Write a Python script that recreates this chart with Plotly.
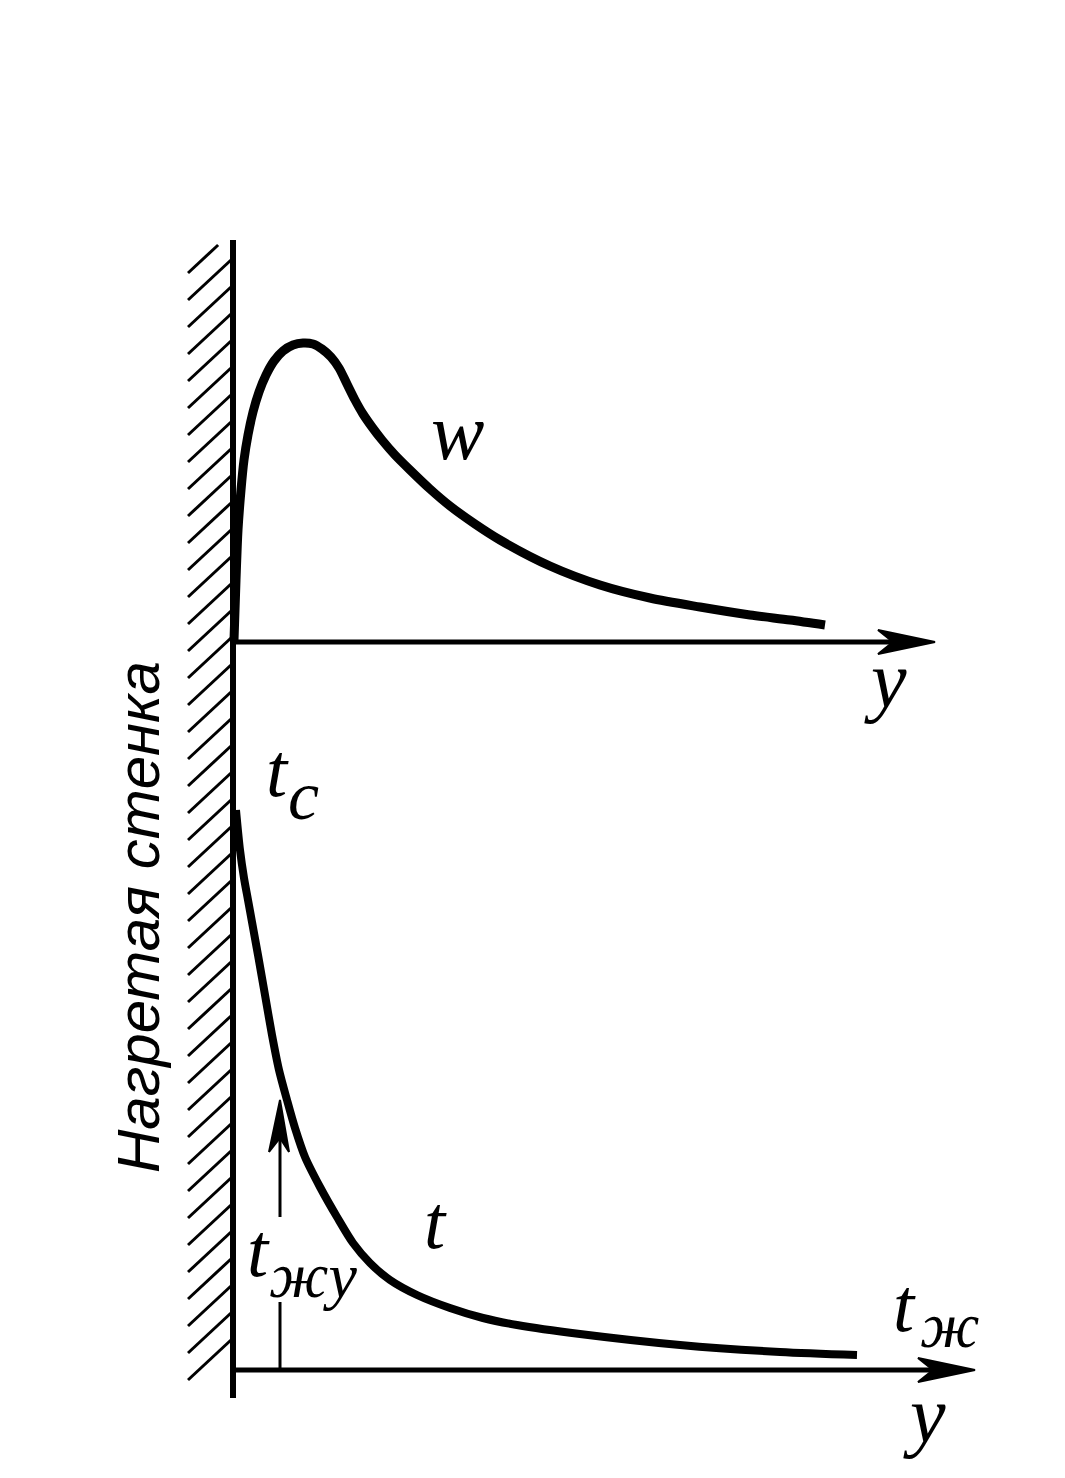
import plotly.graph_objects as go

# ---------------- data ----------------
# velocity profile w(y) near a heated wall (arbitrary units)
w_dist = [0.01, 0.03, 0.05, 0.08, 0.11, 0.15, 0.20, 0.26, 0.33, 0.41, 0.50, 0.60,
          0.70, 0.80, 0.89, 0.98, 1.06, 1.14, 1.22, 1.30, 1.39, 1.49, 1.62, 1.77,
          1.97, 2.17, 2.42, 2.67, 3.17, 3.67, 4.17, 4.67, 5.17, 5.57, 5.92]
w_val = [0.02, 0.62, 1.12, 1.52, 1.82, 2.07, 2.30, 2.50, 2.67, 2.81, 2.91, 2.97,
         2.99, 2.98, 2.93, 2.85, 2.74, 2.58, 2.42, 2.28, 2.15, 2.02, 1.87, 1.72,
         1.53, 1.36, 1.18, 1.02, 0.76, 0.57, 0.44, 0.35, 0.27, 0.22, 0.17]

# temperature profile t(y) (arbitrary units above the lower axis)
t_dist = [0.03, 0.07, 0.11, 0.15, 0.19, 0.25, 0.32, 0.39, 0.46, 0.54, 0.62, 0.72,
          0.87, 1.04, 1.20, 1.37, 1.57, 1.84, 2.17, 2.50, 2.84, 3.47, 4.47, 5.47, 6.24]
t_val = [5.60, 5.20, 4.92, 4.70, 4.48, 4.15, 3.75, 3.35, 3.00, 2.70, 2.42, 2.13,
         1.83, 1.53, 1.27, 1.07, 0.90, 0.75, 0.62, 0.52, 0.45, 0.36, 0.25, 0.18, 0.15]

# lengths of the two y-axes (same units as distance)
w_axis_len = 7.02
t_axis_len = 7.42
# reference arrow for t_жy
tref_dist = 0.47
tref_val = 2.70
tref_gap = [0.68, 1.53]

# text
wall_label = "Нагретая стенка"

# ---------------- layout geometry ----------------
W, H = 1065, 1478
PX = 100.0          # pixels per data unit
WALL_PX = 233
W_AXIS_PX = 642
T_AXIS_PX = 1370


def X(px):
    return px / W


def Y(py):
    return 1 - py / H


fig = go.Figure()
fig.add_trace(go.Scatter(x=w_dist, y=w_val, mode="lines", yaxis="y",
                         line=dict(color="black", width=9, shape="spline", smoothing=0.8),
                         hoverinfo="skip", showlegend=False))
fig.add_trace(go.Scatter(x=t_dist, y=t_val, mode="lines", yaxis="y2",
                         line=dict(color="black", width=8, shape="spline", smoothing=0.8),
                         hoverinfo="skip", showlegend=False))

shapes = []
# wall
shapes.append(dict(type="line", xref="x", yref="paper", x0=0, x1=0,
                   y0=Y(1398), y1=Y(240), line=dict(color="black", width=6)))
# hatching
for i in range(42):
    yl = 273 + 27 * i
    x0, y0 = 188, yl
    x1, y1 = 231, yl - 40
    if y1 < 245:
        x1 = x0 + (x1 - x0) * (y0 - 245) / (y0 - y1)
        y1 = 245
    shapes.append(dict(type="line", xref="paper", yref="paper",
                       x0=X(x0), y0=Y(y0), x1=X(x1), y1=Y(y1),
                       line=dict(color="black", width=3)))


def axis_with_arrow(yref, length):
    out = [dict(type="line", xref="x", yref=yref, x0=0, y0=0, x1=length - 0.3, y1=0,
                line=dict(color="black", width=5))]
    tip = length
    back = length - 0.57
    notch = length - 0.42
    out.append(dict(type="path", xref="x", yref=yref,
                    path=f"M {tip},0 L {back},0.12 L {notch},0 L {back},-0.12 Z",
                    fillcolor="black", line=dict(color="black", width=2)))
    return out


shapes += axis_with_arrow("y", w_axis_len)
shapes += axis_with_arrow("y2", t_axis_len)

# reference arrow t_жy
shapes.append(dict(type="line", xref="x", yref="y2", x0=tref_dist, x1=tref_dist,
                   y0=0, y1=tref_gap[0], line=dict(color="black", width=3)))
shapes.append(dict(type="line", xref="x", yref="y2", x0=tref_dist, x1=tref_dist,
                   y0=tref_gap[1], y1=tref_val - 0.2, line=dict(color="black", width=3)))
shapes.append(dict(type="path", xref="x", yref="y2",
                   path=(f"M {tref_dist},{tref_val} L {tref_dist - 0.11},{tref_val - 0.52} "
                         f"L {tref_dist},{tref_val - 0.38} L {tref_dist + 0.09},{tref_val - 0.52} Z"),
                   fillcolor="black", line=dict(color="black", width=2)))

SERIF = "Liberation Serif"
ann = []


def label(text, px, py, size, family=SERIF, style="italic", angle=0):
    ann.append(dict(text=text, x=X(px), y=Y(py), xref="paper", yref="paper",
                    xanchor="center", yanchor="middle", showarrow=False,
                    textangle=angle,
                    font=dict(family=family, size=size, color="black", style=style)))


label("w", 457, 432, 80)
label("y", 885, 680, 80)
label("t", 277, 770, 76)
label("с", 303, 795, 70)
label("t", 435, 1222, 76)
label("t", 258, 1250, 76)
label("жy", 313, 1275, 64)
label("t", 904, 1305, 76)
label("ж", 950, 1325, 64)
label("y", 924, 1415, 80)
label(wall_label, 138, 917, 60, family="Liberation Sans", angle=-90)

fig.update_layout(
    width=W, height=H,
    margin=dict(l=0, r=0, t=0, b=0),
    paper_bgcolor="white", plot_bgcolor="white",
    xaxis=dict(range=[-WALL_PX / PX, (W - WALL_PX) / PX], domain=[0, 1], visible=False),
    yaxis=dict(range=[(W_AXIS_PX - H) / PX, W_AXIS_PX / PX], domain=[0, 1], visible=False),
    yaxis2=dict(range=[(T_AXIS_PX - H) / PX, T_AXIS_PX / PX], domain=[0, 1],
                overlaying="y", visible=False),
    shapes=shapes,
    annotations=ann,
    showlegend=False,
)

fig.write_html("out.html", config={"displayModeBar": False},
               post_script="document.body.style.margin='0';")
